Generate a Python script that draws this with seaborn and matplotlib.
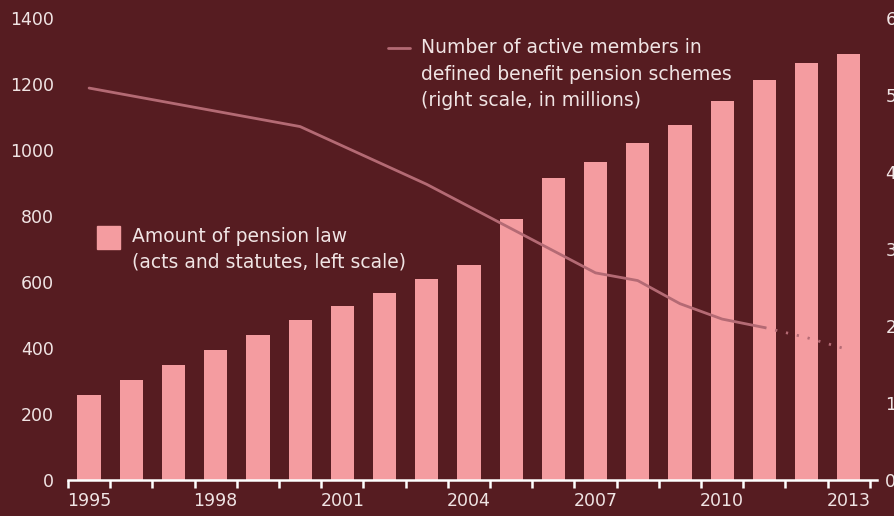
import pandas as pd
import matplotlib.pyplot as plt
import seaborn as sns
from matplotlib.patches import Rectangle
from matplotlib.lines import Line2D

# Data
years = list(range(1995, 2014))
pension_law = [258, 304, 349, 395, 440, 486, 528, 568, 610, 653,
               790, 914, 963, 1020, 1075, 1148, 1212, 1263, 1292]

member_years = [1995, 2000, 2003, 2007, 2008, 2009, 2010, 2011]
members = [5.09, 4.59, 3.84, 2.69, 2.59, 2.29, 2.09, 1.98]
proj_years = [2011, 2012, 2013]
proj_members = [1.98, 1.85, 1.69]

left_ticks = [0, 200, 400, 600, 800, 1000, 1200, 1400]
right_ticks = [0, 1, 2, 3, 4, 5, 6]
year_labels = ['1995', '1998', '2001', '2004', '2007', '2010', '2013']

bg = '#561c21'
bar_col = '#f49ca0'
line_col = '#b46a74'
txt = '#f0e4e4'

sns.set_style('white')
plt.rcParams['font.family'] = ['DejaVu Sans']
fs = 12.5
lfs = 13.5

df = pd.DataFrame({'year': years, 'law': pension_law})
line_df = pd.DataFrame({'x': [y - 1995 for y in member_years], 'm': members})
proj_df = pd.DataFrame({'x': [y - 1995 for y in proj_years], 'm': proj_members})

fig = plt.figure(figsize=(8.95, 5.16), dpi=100, facecolor=bg)
ax = fig.add_axes([68 / 895, 1 - 480 / 516, (877 - 68) / 895, (480 - 18) / 516])
ax.set_facecolor(bg)

sns.barplot(data=df, x='year', y='law', color=bar_col, width=0.55,
            saturation=1, linewidth=0, ax=ax, zorder=2)
ax.set_xlim(-0.5, 18.67)
ax.set_ylim(0, 1400)
ax.set_yticks(left_ticks)
ax.set_yticklabels([str(t) for t in left_ticks])
ax.set_xticks([i * 3 for i in range(len(year_labels))])
ax.set_xticklabels(year_labels)
ax.set_xticks([i - 0.5 for i in range(20)], minor=True)
ax.tick_params(axis='x', which='major', bottom=True, length=0, pad=9,
               labelsize=fs, labelcolor=txt)
ax.tick_params(axis='x', which='minor', bottom=True, length=6, width=1.8,
               color='white', direction='out')
ax.tick_params(axis='y', length=0, pad=10, labelsize=fs, labelcolor=txt)
ax.set_xlabel('')
ax.set_ylabel('')
for s in ['top', 'right', 'left']:
    ax.spines[s].set_visible(False)
ax.spines['bottom'].set_color('white')
ax.spines['bottom'].set_linewidth(1.8)

ax2 = ax.twinx()
sns.lineplot(data=line_df, x='x', y='m', color=line_col, linewidth=2, ax=ax2)
sns.lineplot(data=proj_df, x='x', y='m', color=line_col, linewidth=2,
             linestyle=(0, (0.8, 3.2)), ax=ax2)
ax2.set_ylim(0, 6)
ax2.set_xlim(-0.5, 18.67)
ax2.set_yticks(right_ticks)
ax2.set_yticklabels([str(t) for t in right_ticks])
ax2.tick_params(axis='y', length=0, pad=6, labelsize=fs, labelcolor=txt)
ax2.tick_params(axis='x', which='both', bottom=False, top=False)
ax2.set_ylabel('')
ax2.set_xlabel('')
for s in ['top', 'right', 'left', 'bottom']:
    ax2.spines[s].set_visible(False)

# legend entries drawn by hand
fig.add_artist(Line2D([388 / 895, 410 / 895], [1 - 48 / 516, 1 - 48 / 516],
                      color=line_col, linewidth=2))
for i, line in enumerate(['Number of active members in',
                          'defined benefit pension schemes',
                          '(right scale, in millions)']):
    fig.text(421 / 895, 1 - (48 + 26 * i) / 516, line, color=txt,
             fontsize=lfs, va='center', ha='left')

fig.add_artist(Rectangle((97 / 895, 1 - 249 / 516), 23 / 895, 23 / 516,
                         color=bar_col, transform=fig.transFigure))
for i, line in enumerate(['Amount of pension law',
                          '(acts and statutes, left scale)']):
    fig.text(132 / 895, 1 - (237 + 25 * i) / 516, line, color=txt,
             fontsize=lfs, va='center', ha='left')

plt.savefig('out.png', dpi=100, facecolor=bg)
